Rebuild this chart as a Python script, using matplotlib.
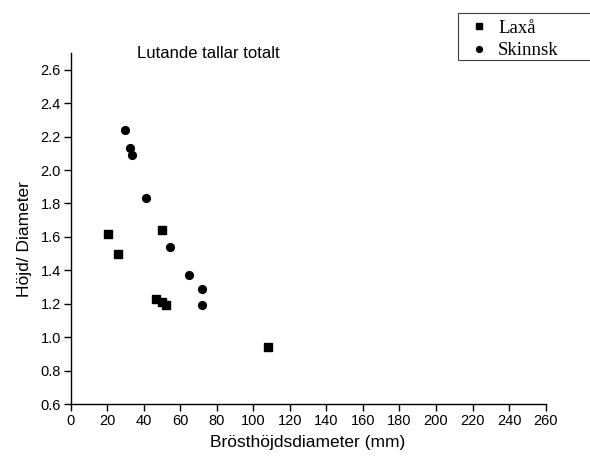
import matplotlib
matplotlib.use("Agg")
import matplotlib.pyplot as plt
from matplotlib.patches import Rectangle

# Laxå (squares)
laxa_x = [20.5, 26, 50, 47, 50, 52, 108]
laxa_y = [1.62, 1.50, 1.64, 1.23, 1.21, 1.19, 0.94]

# Skinnsk (circles)
skinnsk_x = [30, 32.5, 33.5, 41.5, 54.5, 65, 72, 72]
skinnsk_y = [2.24, 2.13, 2.09, 1.83, 1.54, 1.37, 1.29, 1.19]

xticks = list(range(0, 261, 20))
yticks = [0.6, 0.8, 1.0, 1.2, 1.4, 1.6, 1.8, 2.0, 2.2, 2.4, 2.6]

plt.rcParams['font.family'] = ['Liberation Sans', 'DejaVu Sans']

W, H = 590, 457
fig = plt.figure(figsize=(W / 100, H / 100), dpi=100)
ax = fig.add_axes([70.5 / W, 1 - 404 / H, (545.7 - 70.5) / W, (404 - 53) / H])

l1, = ax.plot(laxa_x, laxa_y, 's', color='black', markersize=5.2, linestyle='none')
l2, = ax.plot(skinnsk_x, skinnsk_y, 'o', color='black', markersize=5.6, linestyle='none')

ax.set_xlim(0, 260)
ax.set_ylim(0.6, 2.7)
ax.set_xticks(xticks)
ax.set_yticks(yticks)
ax.set_xticklabels([str(t) for t in xticks])
ax.set_yticklabels([f"{t:.1f}" for t in yticks])
ax.tick_params(direction='out', length=5, width=1, labelsize=10.5, pad=2)
for s in ['top', 'right']:
    ax.spines[s].set_visible(False)
for s in ['left', 'bottom']:
    ax.spines[s].set_linewidth(1)

ax.set_xlabel("Brösthöjdsdiameter (mm)", fontsize=12.5, labelpad=5)
ax.set_ylabel("Höjd/ Diameter", fontsize=12.5)
ax.yaxis.set_label_coords(-0.081, 0.47)
fig.text(208 / W, 1 - 53 / H, "Lutande tallar totalt", fontsize=12,
         ha='center', va='center')

# legend box runs off the right edge, as in the original
box = Rectangle((458 / W, 1 - 60 / H), 200 / W, 47 / H, transform=fig.transFigure,
                facecolor='white', edgecolor='#404040', linewidth=0.8)
fig.patches.append(box)
leg = fig.legend([l1, l2], ["Laxå", "Skinnsk"], loc='upper left',
                 bbox_to_anchor=(458 / W, 1 - 13 / H),
                 frameon=False,
                 prop={'family': 'Liberation Serif', 'size': 13.5},
                 markerscale=0.75,
                 handlelength=1.54, handletextpad=0.25, borderpad=0.35,
                 labelspacing=0.3, borderaxespad=0)

fig.savefig("out.png", dpi=100)
